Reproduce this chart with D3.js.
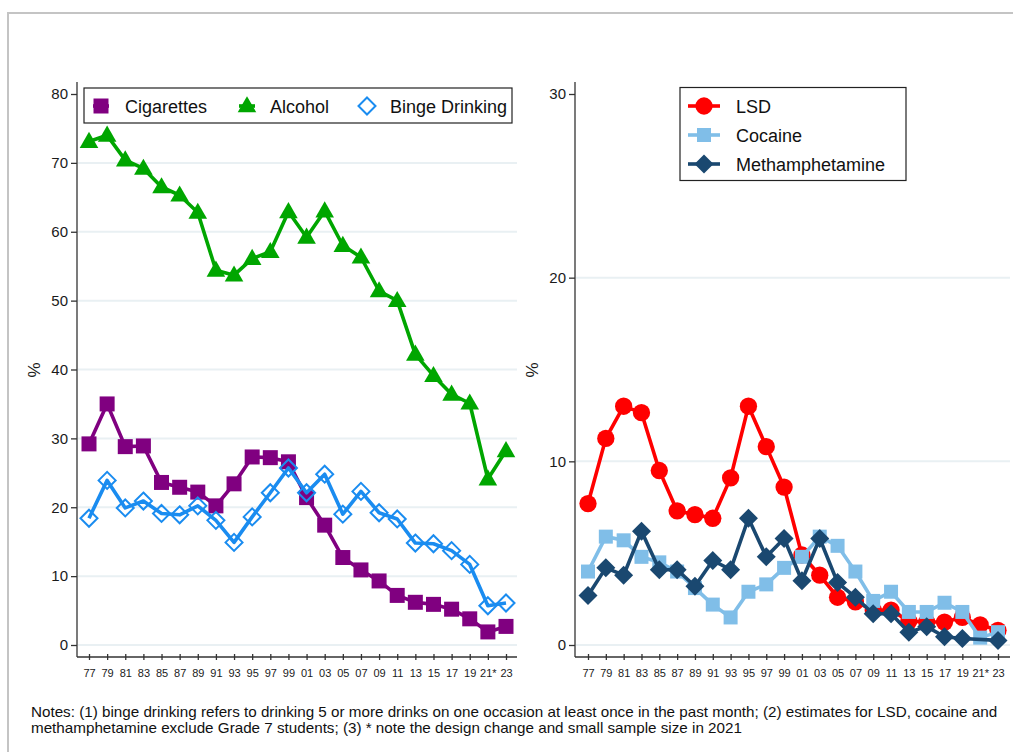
<!DOCTYPE html>
<html>
<head>
<meta charset="utf-8">
<script src="https://cdn.jsdelivr.net/npm/d3@7"></script>
<style>
  html, body { margin: 0; padding: 0; background: #fff; }
  svg { display: block; font-family: "Liberation Sans", Arial, sans-serif; }
</style>
</head>
<body>
<svg id="chart" width="1013" height="752"></svg>
<script>
// Survey years (x-axis labels)
const years = ["77","79","81","83","85","87","89","91","93","95","97","99","01","03","05","07","09","11","13","15","17","19","21*","23"];

// Left panel: past-month use (%)
const cigarettes = [29.2,35.0,28.8,28.9,23.6,22.9,22.2,20.2,23.4,27.3,27.2,26.6,21.4,17.4,12.7,10.9,9.3,7.2,6.2,5.9,5.2,3.8,1.9,2.7];
const alcohol    = [73.1,74.0,70.4,69.2,66.5,65.3,62.8,54.4,53.7,56.1,57.1,62.9,59.2,63.0,58.0,56.3,51.4,50.0,42.2,39.1,36.4,35.1,24.1,28.2];
const binge      = [18.4,23.9,19.9,20.9,19.1,18.9,20.2,18.1,14.9,18.6,22.1,25.7,22.1,24.8,19.0,22.3,19.2,18.3,14.8,14.7,13.7,11.7,5.7,6.1];

// Right panel: past-year use (%)
const lsd     = [7.7,11.25,13.0,12.65,9.5,7.3,7.1,6.9,9.1,13.0,10.8,8.6,4.9,3.8,2.6,2.35,1.9,1.9,1.3,1.25,1.25,1.5,1.1,0.8];
const cocaine = [4.0,5.9,5.7,4.8,4.5,4.0,3.1,2.2,1.5,2.9,3.3,4.2,4.8,5.9,5.4,4.0,2.4,2.9,1.8,1.8,2.3,1.8,0.4,0.7];
const meth    = [2.7,4.2,3.8,6.2,4.1,4.1,3.2,4.6,4.1,6.9,4.8,5.8,3.5,5.8,3.4,2.6,1.7,1.7,0.7,1.0,0.45,0.35,null,0.25];

const leftTicks  = [0,10,20,30,40,50,60,70,80];
const rightTicks = [0,10,20,30];

const notes = [
  "Notes: (1) binge drinking refers to drinking 5 or more drinks on one occasion at least once in the past month; (2) estimates for LSD, cocaine and",
  "methamphetamine exclude Grade 7 students; (3) * note the design change and small sample size in 2021"
];

const svg = d3.select("#chart");

// outer frame
svg.append("path")
  .attr("d", "M8,752 L8,13 L1013,13")
  .attr("fill", "none").attr("stroke", "#c4c4c4").attr("stroke-width", 2);

// marker path generators
const sym = (type, size) => d3.symbol().type(type).size(size)();
const diamondPath = s => `M0,${-s}L${s},0L0,${s}L${-s},0Z`;

function panel(cfg) {
  const g = svg.append("g");
  const x = d3.scalePoint().domain(years).range(cfg.xr);
  const y = d3.scaleLinear().domain(cfg.yd).range([645, 94]);

  // gridlines
  g.append("g").selectAll("line").data(cfg.ticks.filter(t => t < cfg.yd[1]))
    .join("line")
    .attr("x1", cfg.ax + 1).attr("x2", cfg.xEnd)
    .attr("y1", d => y(d)).attr("y2", d => y(d))
    .attr("stroke", "#e9f0f3").attr("stroke-width", 2);

  // y axis
  const ya = g.append("g").attr("transform", `translate(${cfg.ax},0)`)
    .call(d3.axisLeft(y).tickValues(cfg.ticks).tickSize(6).tickPadding(3));
  ya.select(".domain").attr("d", `M0,82V657`).attr("stroke", "#333").attr("stroke-width", 1.3);
  ya.selectAll(".tick line").attr("stroke", "#333").attr("stroke-width", 1.3);
  ya.selectAll(".tick text").attr("font-size", 15).attr("fill", "#1a1a1a")
    .attr("font-family", "'Liberation Sans', Arial, sans-serif");

  // x axis
  const xa = g.append("g").attr("transform", `translate(0,657)`)
    .call(d3.axisBottom(x).tickSize(5).tickPadding(7));
  xa.select(".domain").attr("d", `M${cfg.ax},0H${cfg.xEnd}`).attr("stroke", "#333").attr("stroke-width", 1.3);
  xa.selectAll(".tick line").attr("y1", -3).attr("y2", 3).attr("stroke", "#333").attr("stroke-width", 1.3);
  xa.selectAll(".tick text").attr("font-size", 11).attr("fill", "#1a1a1a")
    .attr("font-family", "'Liberation Sans', Arial, sans-serif");

  // y title
  g.append("text")
    .attr("transform", `translate(${cfg.ax - 37},370) rotate(-90)`)
    .attr("text-anchor", "middle").attr("font-size", 17).attr("fill", "#1a1a1a")
    .text("%");

  // series
  const line = d3.line()
    .x(d => x(d.k)).y(d => y(d.v));

  cfg.series.forEach(s => {
    const pts = years.map((k, i) => ({ k, v: s.values[i] }));
    const valid = pts.filter(d => d.v != null);
    g.append("path").datum(valid)
      .attr("d", line)
      .attr("fill", "none").attr("stroke", s.color)
      .attr("stroke-width", 3.6).attr("stroke-linejoin", "round");
    g.append("g").selectAll("path").data(valid).join("path")
      .attr("transform", d => `translate(${x(d.k)},${y(d.v) + (s.dy || 0)})`)
      .attr("d", s.marker)
      .attr("fill", s.hollow ? "none" : s.color)
      .attr("stroke", s.color)
      .attr("stroke-width", s.hollow ? 2 : 0);
  });

  // legend
  const L = cfg.legend;
  g.append("rect").attr("x", L.x).attr("y", L.y).attr("width", L.w).attr("height", L.h)
    .attr("fill", "#fff").attr("stroke", "#222").attr("stroke-width", 1.2);
  cfg.series.forEach((s, i) => {
    const p = L.pos[i];
    g.append("line").attr("x1", p.mx - L.half).attr("x2", p.mx + L.half)
      .attr("y1", p.my).attr("y2", p.my)
      .attr("stroke", s.color).attr("stroke-width", 3.6);
    g.append("path").attr("transform", `translate(${p.mx},${p.my + (s.dy || 0)})`)
      .attr("d", s.marker)
      .attr("fill", s.hollow ? "#fff" : s.color)
      .attr("stroke", s.color).attr("stroke-width", s.hollow ? 2 : 0);
    g.append("text").attr("x", p.tx).attr("y", p.my + 6.5)
      .attr("font-size", 18).attr("fill", "#111").text(s.name);
  });
}

panel({
  xr: [89, 506], yd: [0, 80], ticks: leftTicks, ax: 77, xEnd: 517,
  series: [
    { name: "Cigarettes", values: cigarettes, color: "#800080", marker: sym(d3.symbolSquare, 225) },
    { name: "Alcohol", values: alcohol, color: "#00a600", marker: sym(d3.symbolTriangle, 150), dy: 1 },
    { name: "Binge Drinking", values: binge, color: "#1a8cf0", marker: diamondPath(8.5), hollow: true }
  ],
  legend: {
    x: 84, y: 88, w: 428, h: 35, half: 8,
    pos: [{ mx: 101, my: 106, tx: 125 }, { mx: 247, my: 106, tx: 270 }, { mx: 367, my: 106, tx: 390 }]
  }
});

panel({
  xr: [588, 998], yd: [0, 30], ticks: rightTicks, ax: 575, xEnd: 1010,
  series: [
    { name: "LSD", values: lsd, color: "#ff0000", marker: sym(d3.symbolCircle, 235) },
    { name: "Cocaine", values: cocaine, color: "#80bee8", marker: sym(d3.symbolSquare, 196) },
    { name: "Methamphetamine", values: meth, color: "#1a4870", marker: diamondPath(9.5) }
  ],
  legend: {
    x: 680, y: 87.5, w: 226, h: 93, half: 16,
    pos: [{ mx: 704, my: 106, tx: 736 }, { mx: 704, my: 135, tx: 736 }, { mx: 704, my: 164, tx: 736 }]
  }
});

// footnote
const ng = svg.append("g").attr("transform", "translate(31,0)");
const nt = ng.selectAll("text").data(notes).join("text")
  .attr("x", 0).attr("y", (d, i) => 717 + i * 16)
  .attr("font-size", 14).attr("fill", "#111").text(d => d);
const w0 = nt.node().getComputedTextLength();
const sx = 967 / w0;
nt.attr("transform", `scale(${sx},1)`);
</script>
</body>
</html>
